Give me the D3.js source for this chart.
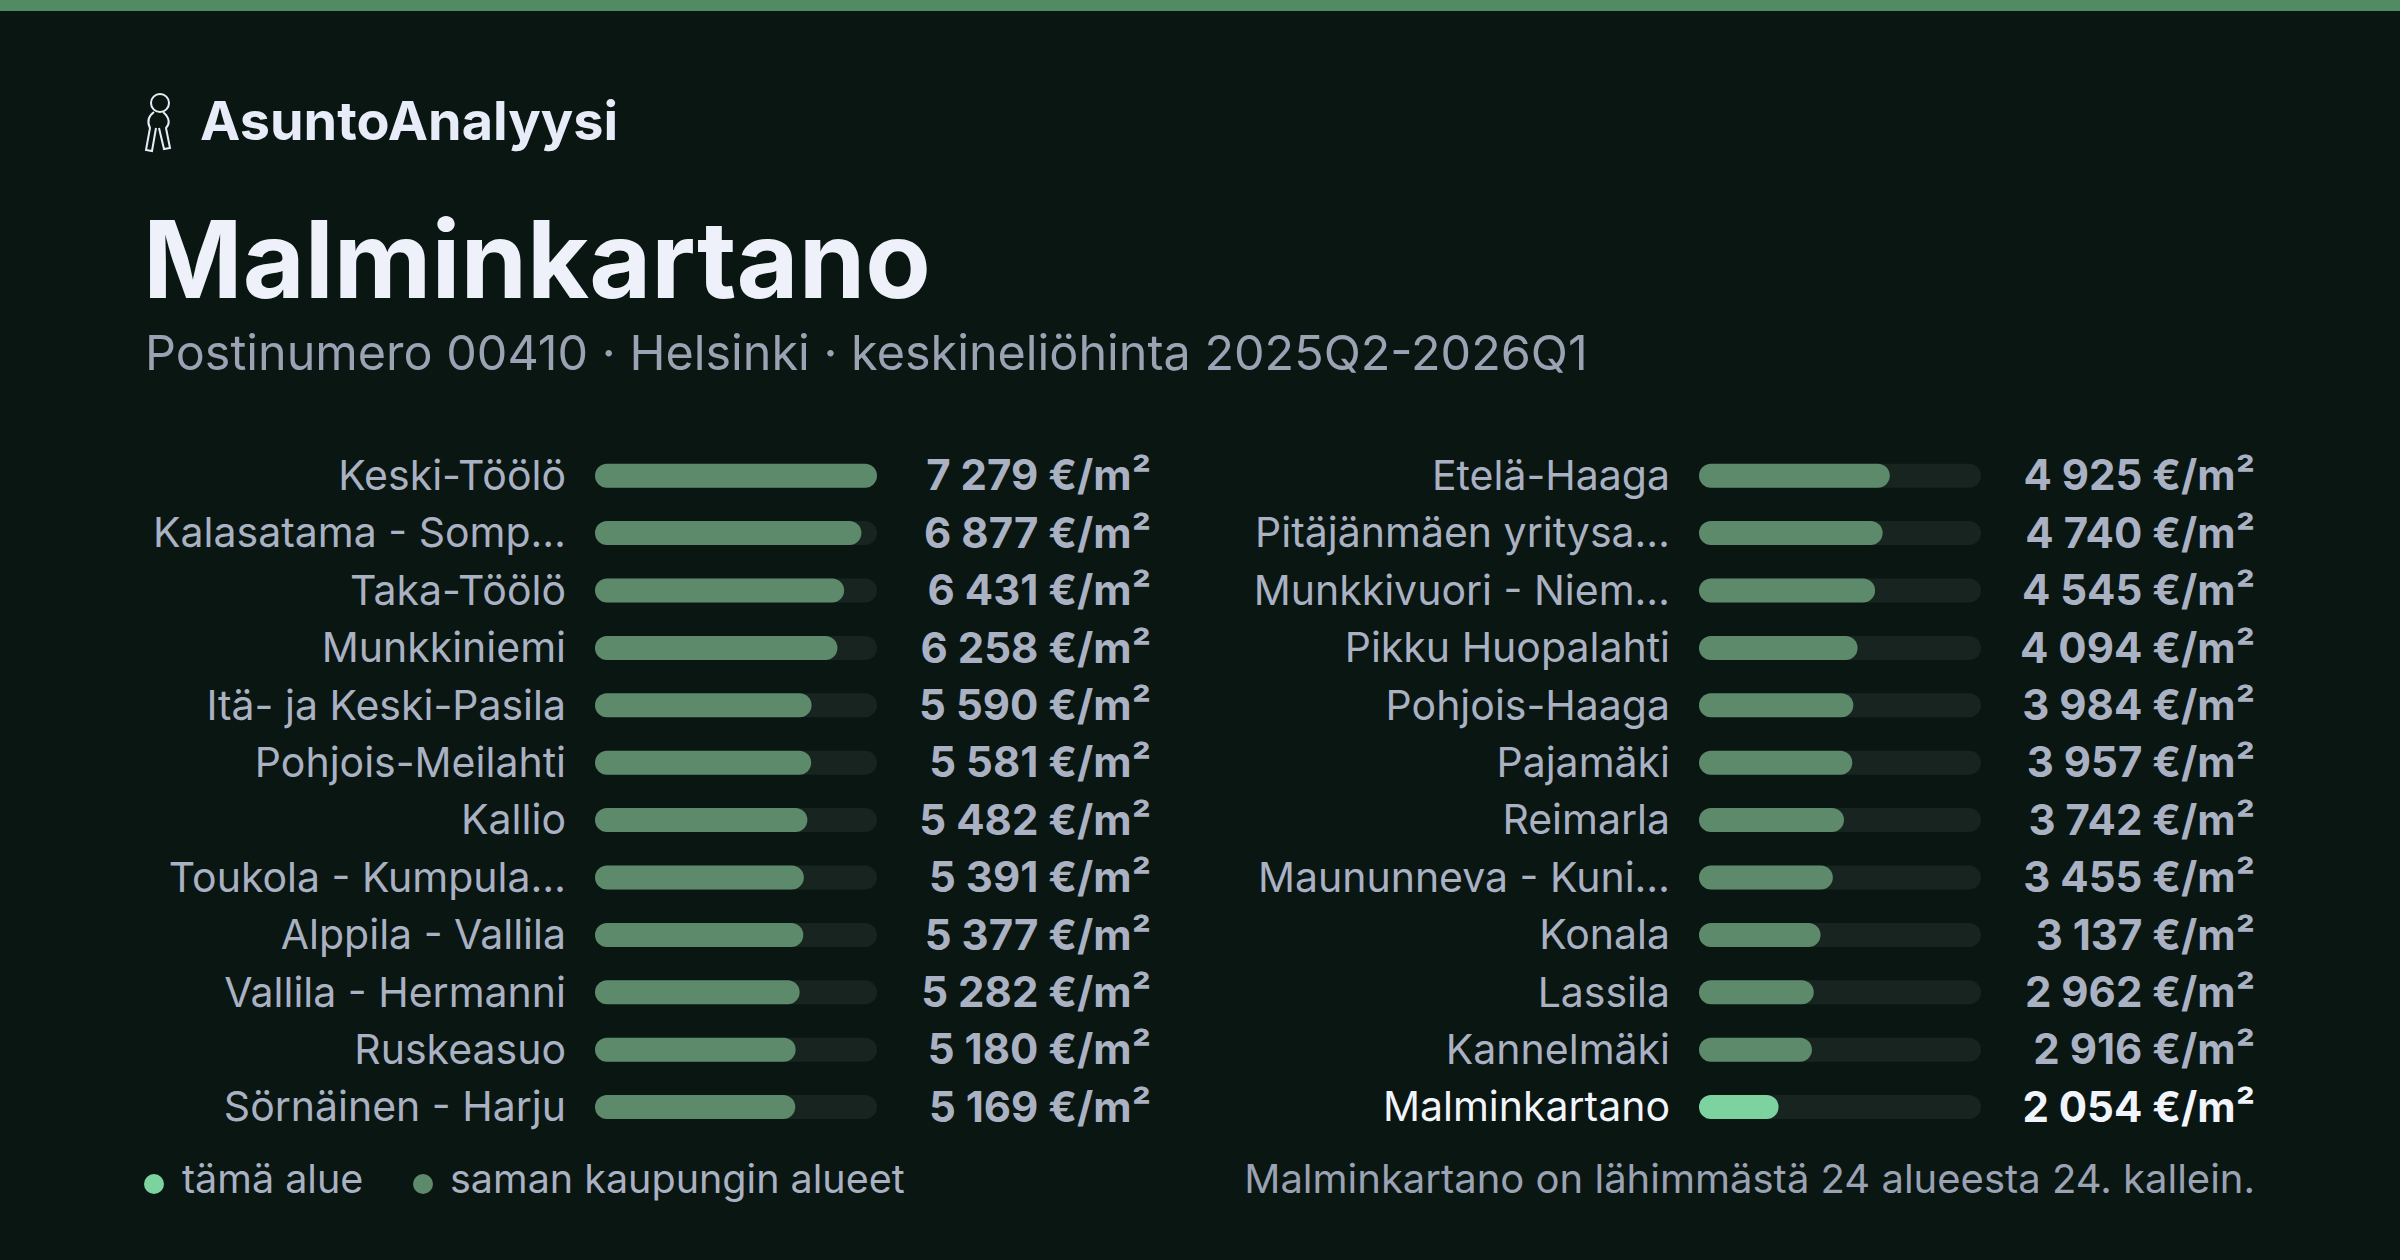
<!DOCTYPE html>
<html><head><meta charset="utf-8">
<script src="https://cdn.jsdelivr.net/npm/d3@7"></script>
<style>html,body{margin:0;padding:0;background:#0a1612}svg{display:block}</style>
</head><body><svg id="c" width="2400" height="1260"></svg>
<script>
const leftNames = ["Keski-Töölö","Kalasatama - Somp…","Taka-Töölö","Munkkiniemi","Itä- ja Keski-Pasila","Pohjois-Meilahti","Kallio","Toukola - Kumpula…","Alppila - Vallila","Vallila - Hermanni","Ruskeasuo","Sörnäinen - Harju"];
const leftValues = [7279,6877,6431,6258,5590,5581,5482,5391,5377,5282,5180,5169];
const rightNames = ["Etelä-Haaga","Pitäjänmäen yritysa…","Munkkivuori - Niem…","Pikku Huopalahti","Pohjois-Haaga","Pajamäki","Reimarla","Maununneva - Kuni…","Konala","Lassila","Kannelmäki","Malminkartano"];
const rightValues = [4925,4740,4545,4094,3984,3957,3742,3455,3137,2962,2916,2054];
const current = "Malminkartano";

const svg = d3.select("#c");
const F = "Inter, 'Open Sans', sans-serif";
svg.append("rect").attr("width",2400).attr("height",1260).attr("fill","#0a1612");
svg.append("rect").attr("width",2400).attr("height",11).attr("fill","#528a64");

// logo icon (keys)
const g0 = svg.append("g").attr("fill","none").attr("stroke","#e8ecf8").attr("stroke-width",2);
g0.append("circle").attr("cx",160).attr("cy",103).attr("r",9);
g0.append("path").attr("d","M154,112 C146,118 148,124 150,128 L146,150 L152,151 L156,128 M163,112 C170,118 170,124 166,128 L170,148 L164,149 L159,128");
svg.append("text").attr("x",200).attr("y",140).attr("font-family",F).attr("font-weight",700)
  .attr("font-size",54).attr("fill","#e8ecf8").text("AsuntoAnalyysi");
svg.append("text").attr("x",143).attr("y",298).attr("font-family",F).attr("font-weight",700)
  .attr("font-size",107).attr("fill","#eef0fa").text("Malminkartano");
svg.append("text").attr("x",145).attr("y",370).attr("font-family",F)
  .attr("font-size",48.5).attr("fill","#9aa2b4").text("Postinumero 00410 · Helsinki · keskineliöhinta 2025Q2-2026Q1");

const maxV = d3.max(leftValues.concat(rightValues));
const y = d3.scaleBand().domain(d3.range(12)).range([447, 447+57.4*12]);
const fmt = v => d3.format(",")(v).replace(/,/g," ") + " €/m²";

function column(names, values, labelX, barX0, barX1, valX){
  const x = d3.scaleLinear().domain([0,maxV]).range([barX0,barX1]);
  const g = svg.append("g");
  names.forEach((n,i)=>{
    const cy = y(i)+y.bandwidth()/2;
    const hl = n===current;
    g.append("text").attr("x",labelX).attr("y",cy).attr("dy","0.35em").attr("text-anchor","end")
      .attr("font-family",F).attr("font-size",41).attr("fill",hl?"#f2f4fc":"#a9b1c3").text(n);
    g.append("rect").attr("x",barX0).attr("y",cy-12).attr("width",barX1-barX0).attr("height",24)
      .attr("rx",12).attr("fill","#17241f");
    g.append("rect").attr("x",barX0).attr("y",cy-12).attr("width",x(values[i])-barX0).attr("height",24)
      .attr("rx",12).attr("fill",hl?"#7dd3a0":"#5e8a6c");
    g.append("text").attr("x",valX).attr("y",cy).attr("dy","0.35em").attr("text-anchor","end")
      .attr("font-family",F).attr("font-weight",700).attr("font-size",42)
      .attr("fill",hl?"#f2f4fc":"#a9b1c3").text(fmt(values[i]));
  });
}
column(leftNames,leftValues,566,595,877,1151);
column(rightNames,rightValues,1670,1699,1981,2255);

const ly = 1179;
svg.append("circle").attr("cx",154).attr("cy",ly+5).attr("r",10).attr("fill","#7dd3a0");
svg.append("text").attr("x",182).attr("y",ly).attr("dy","0.35em").attr("font-family",F).attr("font-size",39.5).attr("fill","#a9b1c3").text("tämä alue");
svg.append("circle").attr("cx",423).attr("cy",ly+5).attr("r",10).attr("fill","#5e8a6c");
svg.append("text").attr("x",450).attr("y",ly).attr("dy","0.35em").attr("font-family",F).attr("font-size",39.5).attr("fill","#a9b1c3").text("saman kaupungin alueet");
svg.append("text").attr("x",2255).attr("y",ly).attr("dy","0.35em").attr("text-anchor","end").attr("font-family",F).attr("font-size",40).attr("fill","#9aa2b4")
  .text("Malminkartano on lähimmästä 24 alueesta 24. kallein.");
</script></body></html>
